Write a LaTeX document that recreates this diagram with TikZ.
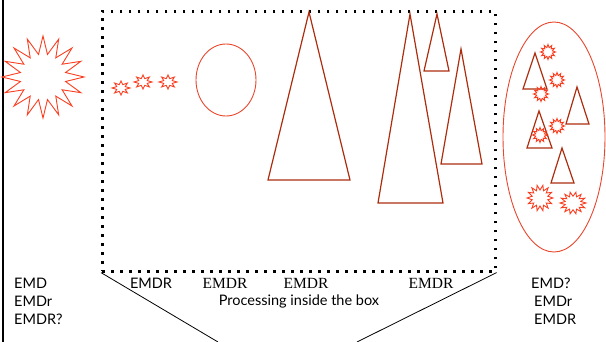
\documentclass[tikz,border=0pt]{standalone}
\usepackage{fontspec}
\setmainfont{Lato}
\newfontfamily\serifface{Liberation Serif}
\definecolor{starred}{RGB}{250,62,32}
\definecolor{ellred}{RGB}{232,70,45}
\definecolor{trired}{RGB}{172,44,14}
\newcommand{\burst}[6]{%
  \draw[starline, shift={(#1,#2)}, yscale=#6] (0:#4)
    \foreach \k in {1,...,\numexpr2*#3-1\relax} { -- ({\k*180/#3}:{ifthenelse(mod(\k,2)==1,#5,#4)}) } -- cycle;}
\begin{document}
\begin{tikzpicture}[x=1pt,y=-1pt,
  starline/.style={draw=starred, line width=0.9pt, line join=miter},
  tri/.style={draw=trired, line width=1.2pt},
  ell/.style={draw=ellred, line width=0.9pt},
  dotbox/.style={draw=black, line width=2.6pt, dash pattern=on 2.6pt off 6.4pt},
  lab/.style={font=\fontsize{14.5}{16}\selectfont, inner sep=0pt},
  slab/.style={font=\serifface\fontsize{15.5}{17}\selectfont, inner sep=0pt}]
\useasboundingbox (0,0) rectangle (606,342);
% left vertical rule
\draw[line width=1.4pt] (3,0) -- (3,342);
% dotted processing box
\node[dotbox, minimum width=393pt, minimum height=260pt, anchor=north west, inner sep=0pt] (box) at (101,10) {};
\coordinate (f1) at (218,342);
\coordinate (f2) at (357,342);
\draw[line width=0.8pt] (box.south west) -- (f1);
\draw[line width=0.8pt] (box.south east) -- (f2);
% left big star
\burst{43}{77}{16}{41}{23}{1}
% small stars in box
\burst{121}{88}{8}{9}{4.6}{0.78}
\burst{143}{82}{8}{9}{4.6}{0.78}
\burst{168}{82}{8}{9}{4.6}{0.78}
% ellipse in box
\draw[ell] (226,80) ellipse [x radius=30, y radius=36];
% triangles in box
\draw[tri] (309,12) -- (350,180) -- (268,180) -- cycle;
\draw[tri] (410,14) -- (443,203) -- (378,203) -- cycle;
\draw[tri] (437,14) -- (449,71) -- (424,71) -- cycle;
\draw[tri] (461,49) -- (482,164) -- (441,164) -- cycle;
% right ellipse with contents
\draw[ell] (554,137) ellipse [x radius=51, y radius=115];
\draw[tri] (535,53) -- (547,89) -- (523,89) -- cycle;
\draw[tri] (577,87) -- (589,124) -- (566,124) -- cycle;
\draw[tri] (539,111) -- (552,148) -- (527,148) -- cycle;
\draw[tri] (562,148) -- (574,183) -- (551,183) -- cycle;
\burst{548}{52}{12}{7.5}{4.5}{1}
\burst{557}{80}{12}{7.5}{4.5}{1}
\burst{541}{94}{12}{7.5}{4.5}{1}
\burst{557}{126}{12}{7.5}{4.5}{1}
\burst{540}{135}{12}{7.5}{4.5}{1}
\burst{540}{198}{14}{13}{8}{1}
\burst{573}{203}{14}{13}{8}{0.85}
% texts
\node[lab, anchor=west] (l1) at (14,283) {EMD};
\node[lab, anchor=west] (l2) at (14,301) {EMDr};
\node[lab, anchor=west] (l3) at (14,319) {EMDR?};
\node[lab] (e1) at (151,283) {EMDR};
\node[slab] (e2) at (225,283) {EMDR};
\node[slab] (e3) at (306,283) {EMDR};
\node[slab] (e4) at (431,283) {EMDR};
\node[lab] (proc) at (299,301) {Processing inside the box};
\node[lab, anchor=west] (r1) at (531,283) {EMD?};
\node[lab, anchor=west] (r2) at (534,301) {EMDr};
\node[lab, anchor=west] (r3) at (534,319) {EMDR};
\end{tikzpicture}
\end{document}
